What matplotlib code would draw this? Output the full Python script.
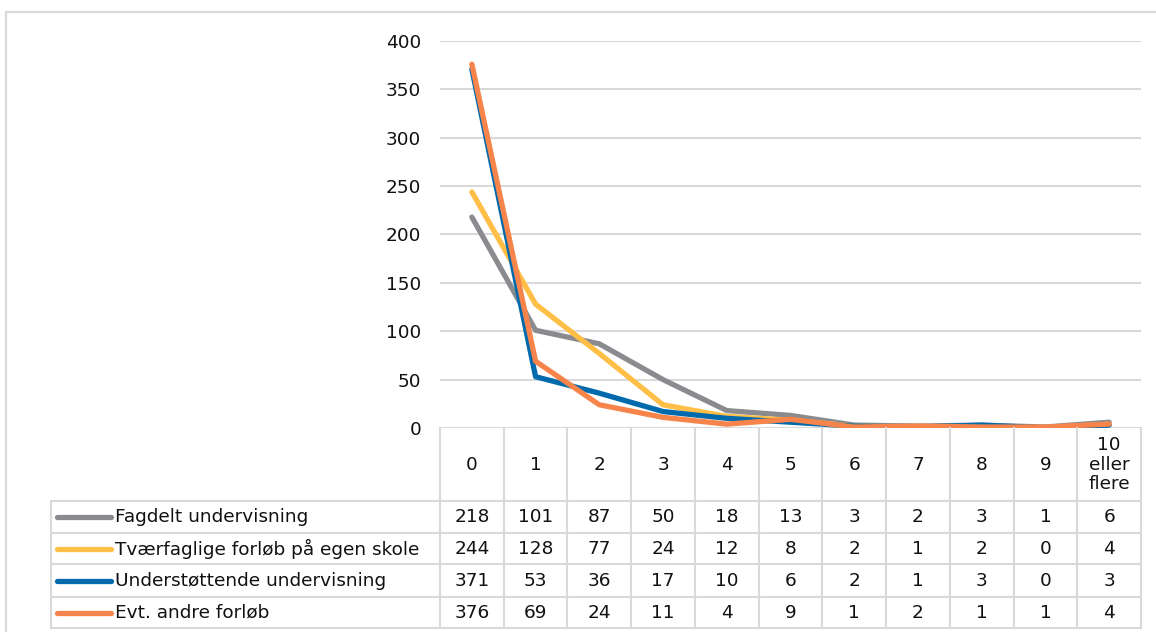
import matplotlib
matplotlib.use('Agg')
import matplotlib.pyplot as plt
from matplotlib.lines import Line2D

categories = ['0', '1', '2', '3', '4', '5', '6', '7', '8', '9', '10\neller\nflere']
fagdelt = [218, 101, 87, 50, 18, 13, 3, 2, 3, 1, 6]
tvaerfaglige = [244, 128, 77, 24, 12, 8, 2, 1, 2, 0, 4]
understottende = [371, 53, 36, 17, 10, 6, 2, 1, 3, 0, 3]
andre = [376, 69, 24, 11, 4, 9, 1, 2, 1, 1, 4]

series_names = ['Fagdelt undervisning', 'Tværfaglige forløb på egen skole',
                'Understøttende undervisning', 'Evt. andre forløb']
series = [fagdelt, tvaerfaglige, understottende, andre]
colors = ['#898B8E', '#FFBF47', '#006AAC', '#F7844A']

yticks = [0, 50, 100, 150, 200, 250, 300, 350, 400]

W, H = 1156, 632
grid_col = '#D9D9D9'
txt_col = '#111111'
fs = 13.3
plt.rcParams['font.family'] = ['DejaVu Sans']

fig = plt.figure(figsize=(W / 100, H / 100), dpi=100)


def fx(px):
    return px / W


def fy(py):
    return 1 - py / H


# plot area in pixels
plot_l, plot_r, plot_t, plot_b = 440, 1141, 41, 428
ax = fig.add_axes([fx(plot_l), fy(plot_b), (plot_r - plot_l) / W, (plot_b - plot_t) / H])
x = list(range(len(categories)))
for vals, c in zip(series, colors):
    ax.plot(x, vals, color=c, lw=3.8, solid_capstyle='round', solid_joinstyle='round', zorder=3)
ax.set_xlim(-0.5, len(categories) - 0.5)
ax.set_ylim(0, 400)
ax.set_yticks(yticks)
ax.set_xticks([])
ax.tick_params(axis='y', length=0, pad=13.5, labelsize=fs, labelcolor=txt_col)
ax.grid(axis='y', color=grid_col, lw=1.5, zorder=0)
for s in ax.spines.values():
    s.set_visible(False)
ax.set_axisbelow(True)

# data table underneath, pixel rows
tab_l, tab_b = 51, 628
col_w = (plot_r - plot_l) / len(categories)
tx = fig.add_axes([fx(tab_l), fy(tab_b), (plot_r - tab_l) / W, (tab_b - plot_b) / H])
tx.set_xlim(-0.5 - (plot_l - tab_l) / col_w, len(categories) - 0.5)
tx.set_ylim(tab_b, plot_b)
tx.axis('off')

row_edges = [428, 501, 533, 564, 597, 628]
left_edge = tx.get_xlim()[0]
# horizontal lines
for ry in row_edges[1:]:
    tx.plot([left_edge, len(categories) - 0.5], [ry, ry], color=grid_col, lw=1.5, clip_on=False)
# vertical lines
for k in range(len(categories) + 1):
    tx.plot([k - 0.5, k - 0.5], [row_edges[0], row_edges[-1]], color=grid_col, lw=1.5, clip_on=False)
tx.plot([left_edge, left_edge], [row_edges[1], row_edges[-1]], color=grid_col, lw=1.5, clip_on=False)

for k, lab in enumerate(categories):
    tx.text(k, (row_edges[0] + row_edges[1]) / 2, lab, ha='center', va='center',
            fontsize=fs, color=txt_col, linespacing=1.1)

for i, (name, vals, c) in enumerate(zip(series_names, series, colors)):
    yc = (row_edges[i + 1] + row_edges[i + 2]) / 2
    x0 = left_edge + (57 - tab_l) / col_w
    x1 = left_edge + (111 - tab_l) / col_w
    tx.plot([x0, x1], [yc, yc], color=c, lw=3.8, solid_capstyle='round', clip_on=False)
    tx.text(left_edge + (115 - tab_l) / col_w, yc, name, ha='left', va='center',
            fontsize=fs, color=txt_col)
    for k, v in enumerate(vals):
        tx.text(k, yc, str(v), ha='center', va='center', fontsize=fs, color=txt_col)

# outer chart border
fig.add_artist(Line2D([fx(6), fx(6), fx(1160)], [fy(640), fy(12), fy(12)],
                      transform=fig.transFigure, color=grid_col, lw=1.6))

fig.savefig('out.png', dpi=100)
